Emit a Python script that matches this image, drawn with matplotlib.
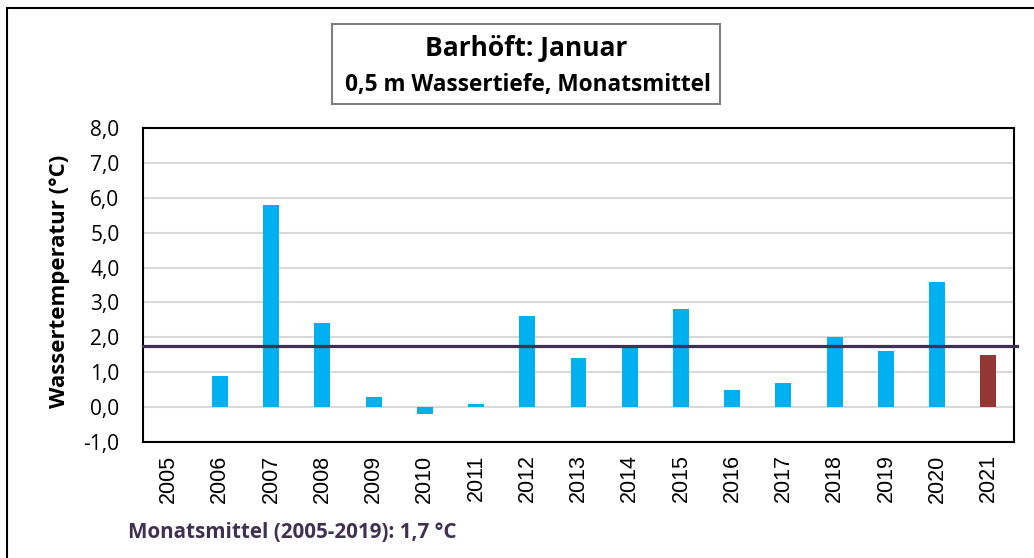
# Monthly mean water temperature at Barhoeft, January, 0.5 m depth
import matplotlib.pyplot as plt
from matplotlib.patches import Rectangle

years = ['2005', '2006', '2007', '2008', '2009', '2010', '2011', '2012', '2013',
         '2014', '2015', '2016', '2017', '2018', '2019', '2020', '2021']
# 2005 has no value
temps = [None, 0.9, 5.8, 2.4, 0.3, -0.2, 0.1, 2.6, 1.4,
         1.7, 2.8, 0.5, 0.7, 2.0, 1.6, 3.6, 1.5]
meanTemp = 1.75
yTicks = [-1.0, 0.0, 1.0, 2.0, 3.0, 4.0, 5.0, 6.0, 7.0, 8.0]

blue = '#00B0F0'
red = '#943634'
purple = '#403152'
font = 'Open Sans'

fig = plt.figure(figsize=(10.34, 5.58), dpi=100)
ax = fig.add_axes([143 / 1034, 116 / 558, 871 / 1034, 314 / 558])

# bars: only years with data, the current year in red
xs = [i for i, t in enumerate(temps) if t is not None]
vals = [temps[i] for i in xs]
colors = [red if years[i] == '2021' else blue for i in xs]
ax.bar(xs, vals, width=0.31, color=colors, zorder=3)

# long-term mean line
ax.axhline(meanTemp, color=purple, linewidth=2.3, zorder=4, clip_on=False,
           xmax=1.003)

ax.set_xlim(-0.5, len(years) - 0.5)
ax.set_ylim(-1, 8)
ax.set_yticks(yTicks)
ax.set_yticklabels([('%.1f' % v).replace('.', ',') for v in yTicks],
                   fontsize=15, family=font)
ax.set_xticks(range(len(years)))
ax.set_xticklabels(years, rotation=90, fontsize=15.5, family='Liberation Sans')
ax.tick_params(axis='x', length=0, pad=9)
ax.tick_params(axis='y', length=0, pad=17)
ax.grid(axis='y', color='#D9D9D9', linewidth=1.5, zorder=0)
for s in ax.spines.values():
    s.set_linewidth(1.5)
    s.set_color('black')

fig.text(60 / 1034, 1 - 281 / 558, 'Wassertemperatur (°C)', rotation=90,
         ha='center', va='center', fontsize=16, fontweight='bold', family=font)

# title box
fig.patches.append(Rectangle((332 / 1034, 1 - 104 / 558), 388 / 1034, 80 / 558,
                             transform=fig.transFigure, facecolor='white',
                             edgecolor='#7F7F7F', linewidth=1.5))
fig.text(526 / 1034, 1 - 48 / 558, 'Barhöft: Januar', ha='center', va='center',
         fontsize=19, fontweight='bold', family=font)
fig.text(528 / 1034, 1 - 85 / 558, '0,5 m Wassertiefe, Monatsmittel',
         ha='center', va='center', fontsize=16.3, fontweight='bold', family=font)

fig.text(128 / 1034, 1 - 533 / 558, 'Monatsmittel (2005-2019): 1,7 °C',
         ha='left', va='center', fontsize=14.9, fontweight='bold',
         color=purple, family=font)

# outer frame (right and bottom edges fall outside the picture)
fig.patches.append(Rectangle((7 / 1034, -0.1), 1.2, 1 - 8 / 558 + 0.1,
                             transform=fig.transFigure, facecolor='none',
                             edgecolor='black', linewidth=1.5))

fig.savefig('out.png', dpi=100)
